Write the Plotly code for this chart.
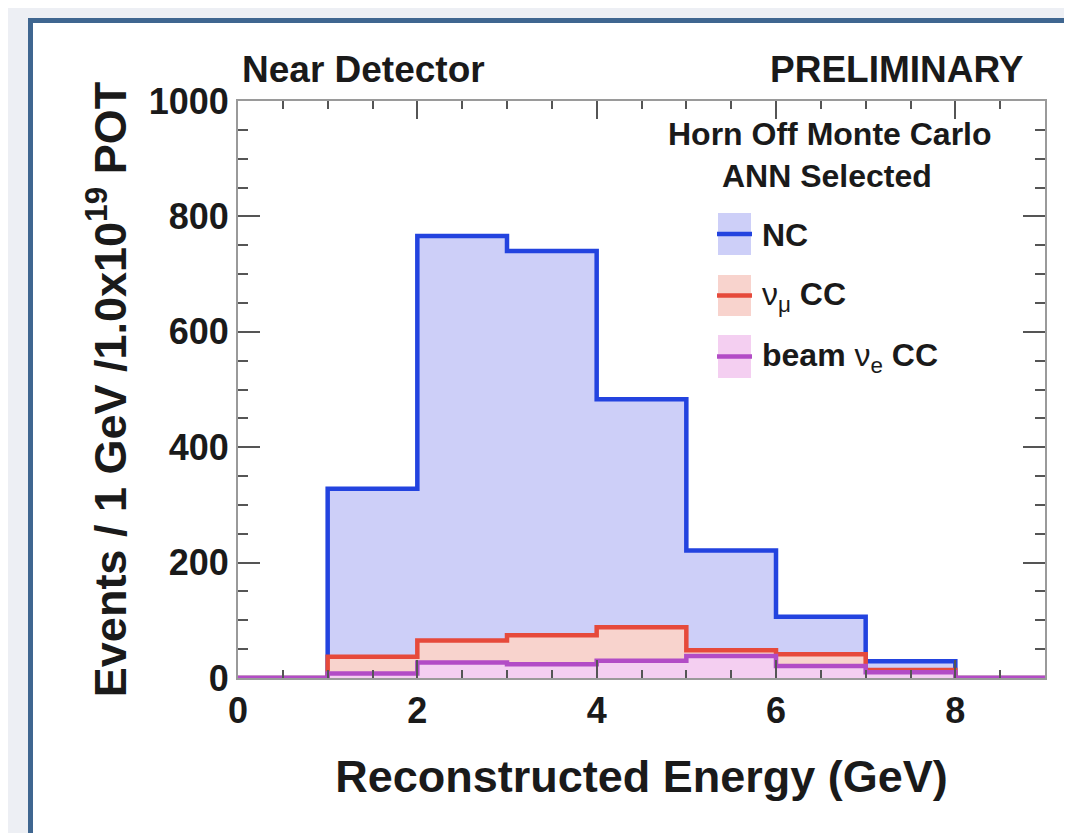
import plotly.graph_objects as go

# ---- data ----
bin_edges = [0, 1, 2, 3, 4, 5, 6, 7, 8, 9]
nc_values = [0, 328, 766, 740, 483, 221, 106, 29, 0]
numu_cc_values = [0, 37, 65, 74, 88, 48, 41, 14, 0]
beam_nue_cc_values = [0, 8, 27, 24, 30, 38, 21, 10, 0]

series_names = ["NC", "ν<sub>μ</sub> <b>CC</b>", "<b>beam</b> ν<sub>e</sub> <b>CC</b>"]
line_colors = ["#2343df", "#e64a3b", "#b24cc6"]
fill_colors = ["#cdcff8", "#f8d3cd", "#f4cff1"]

x_ticks = [0, 2, 4, 6, 8]
y_ticks = [0, 200, 400, 600, 800, 1000]

FONT = "Liberation Sans, Arial, Helvetica, sans-serif"

# pixel geometry of the plot area inside the 1072x833 canvas
L, R, T, B = 230, 1037, 93, 670
W, H = 1072, 833


def px(xp):
    return (xp - L) / (R - L)


def py(yp):
    return (B - yp) / (B - T)


def step(values):
    return bin_edges, list(values) + [values[-1]]


fig = go.Figure()
for vals, lc, fc in zip([nc_values, numu_cc_values, beam_nue_cc_values], line_colors, fill_colors):
    xs, ys = step(vals)
    fig.add_trace(go.Scatter(
        x=xs, y=ys, mode="lines", line=dict(shape="hv", color=lc, width=4.5),
        fill="tozeroy", fillcolor=fc, showlegend=False, hoverinfo="skip"))

axis_common = dict(
    showline=True, linecolor="#9a9a9a", linewidth=2, mirror="allticks",
    ticks="inside", tickcolor="#555555", tickwidth=2,
    showgrid=False, zeroline=False,
    tickfont=dict(family=FONT, size=36, color="#1a1a1a", weight="bold"),
)

fig.update_xaxes(
    range=[0, 9], tickvals=x_ticks, ticktext=[str(v) for v in x_ticks], ticklen=18,
    minor=dict(ticks="inside", dtick=0.5, ticklen=8, tickcolor="#555555", tickwidth=2),
    title=dict(text="Reconstructed Energy (GeV)", standoff=30,
               font=dict(family=FONT, size=45, color="#1a1a1a", weight="bold")),
    **axis_common)
fig.update_yaxes(
    range=[0, 1000], tickvals=y_ticks, ticktext=[str(v) for v in y_ticks], ticklen=22,
    minor=dict(ticks="inside", dtick=50, ticklen=10, tickcolor="#555555", tickwidth=2),
    title=dict(text="Events / 1 GeV /1.0x10<sup>19</sup> POT", standoff=8,
               font=dict(family=FONT, size=45, color="#1a1a1a", weight="bold")),
    **axis_common)

shapes = [
    # outer slide-style frame
    dict(type="rect", xref="paper", yref="paper", layer="below",
         x0=px(22.5), x1=px(1065), y0=py(860), y1=py(12.5),
         line=dict(color="#3f6690", width=5), fillcolor="white"),
]
annotations = [
    dict(text="Near Detector", x=px(232), y=py(61), xanchor="left", yanchor="middle",
         font=dict(family=FONT, size=37, color="#1a1a1a", weight="bold")),
    dict(text="PRELIMINARY", x=px(1018), y=py(61), xanchor="right", yanchor="middle",
         font=dict(family=FONT, size=37, color="#1a1a1a", weight="bold")),
    dict(text="Horn Off Monte Carlo", x=px(822), y=py(126), xanchor="center", yanchor="middle",
         font=dict(family=FONT, size=32, color="#1a1a1a", weight="bold")),
    dict(text="ANN Selected", x=px(819), y=py(168), xanchor="center", yanchor="middle",
         font=dict(family=FONT, size=32, color="#1a1a1a", weight="bold")),
]

swatch_boxes = [(205, 247), (267, 308), (327, 370)]
for name, lc, fc, (t, b) in zip(series_names, line_colors, fill_colors, swatch_boxes):
    shapes.append(dict(type="rect", xref="paper", yref="paper",
                       x0=px(710), x1=px(743), y0=py(b), y1=py(t),
                       line=dict(width=0), fillcolor=fc))
    mid = (t + b) / 2
    shapes.append(dict(type="line", xref="paper", yref="paper",
                       x0=px(709), x1=px(744), y0=py(mid), y1=py(mid),
                       line=dict(color=lc, width=4.5)))
    weight = "bold" if name == "NC" else "normal"
    annotations.append(dict(text=name, x=px(752), y=py(mid + 1), xanchor="left", yanchor="middle",
                            font=dict(family=FONT, size=32, color="#1a1a1a", weight=weight)))

for a in annotations:
    a.update(xref="paper", yref="paper", showarrow=False)

fig.update_layout(
    width=W, height=H, autosize=False,
    margin=dict(l=L, r=W - R, t=T, b=H - B, pad=0),
    paper_bgcolor="#edeff4", plot_bgcolor="white",
    shapes=shapes, annotations=annotations, showlegend=False,
)

fig.write_html("out.html")
